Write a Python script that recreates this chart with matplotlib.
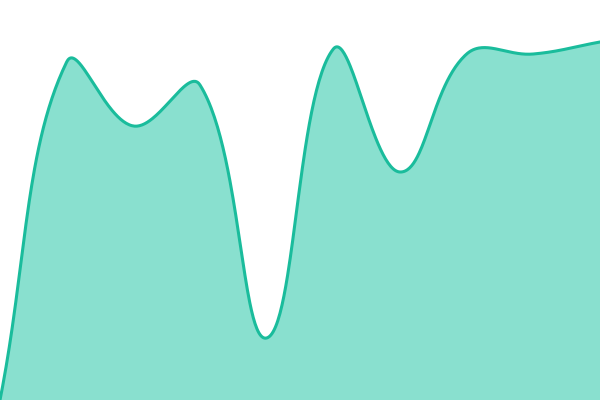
import numpy as np
import matplotlib
matplotlib.use('Agg')
import matplotlib.pyplot as plt

# values (y axis 0..400)
xs = [0, 1, 2, 3, 4, 5, 6, 7, 8, 9]
values = [0, 338, 274, 315, 62, 351, 228, 346, 346, 358]

W, H = 600, 400

def smooth(x, y, tension=0.4, n=60):
    # bezier spline like chart.js, computed in pixel space
    px = np.asarray(x, float) * W / (len(x) - 1)
    py = np.asarray(y, float) * H / 400
    pts = np.column_stack([px, py])
    cp_prev, cp_next = [], []
    for i in range(len(pts)):
        prev = pts[max(i-1, 0)]
        cur = pts[i]
        nxt = pts[min(i+1, len(pts)-1)]
        d01 = np.hypot(*(cur - prev))
        d12 = np.hypot(*(nxt - cur))
        s = d01 + d12
        s01 = d01 / s if s else 0
        s12 = d12 / s if s else 0
        cp_prev.append(cur - tension * s01 * (nxt - prev))
        cp_next.append(cur + tension * s12 * (nxt - prev))
    out = []
    t = np.linspace(0, 1, n, endpoint=False)[:, None]
    for i in range(len(pts) - 1):
        p0, p1, p2, p3 = pts[i], cp_next[i], cp_prev[i+1], pts[i+1]
        out.append((1-t)**3*p0 + 3*(1-t)**2*t*p1 + 3*(1-t)*t**2*p2 + t**3*p3)
    out.append(pts[-1:])
    out = np.concatenate(out)
    return out[:, 0], out[:, 1]

sx, sy = smooth(xs, values)

fig = plt.figure(figsize=(6, 4), dpi=100)
ax = fig.add_axes([0, 0, 1, 1])
ax.fill_between(sx, 0, sy, color='#89e0cf', linewidth=0)
ax.plot(sx, sy, color='#1abc9c', linewidth=2.2, solid_capstyle='round')
ax.set_xlim(0, W)
ax.set_ylim(0, H)
ax.axis('off')
fig.savefig('out.png', dpi=100)
